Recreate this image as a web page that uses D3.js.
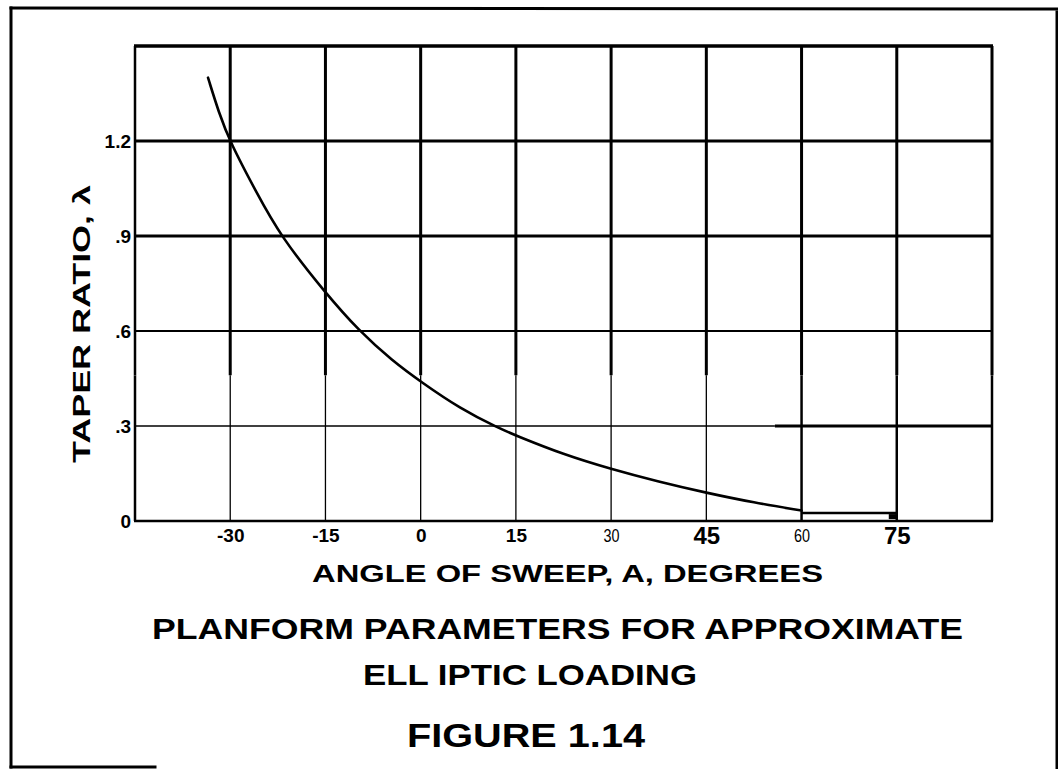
<!DOCTYPE html>
<html><head><meta charset="utf-8">
<script src="https://cdn.jsdelivr.net/npm/d3@7"></script>
<style>body{margin:0;background:#fff}svg{display:block}</style>
</head><body><svg id="c" width="1058" height="769"></svg>
<script>
// ---- data ----
const sweepAngle = [-33.5, -31.8, -30, -25.8, -22.1, -15, -9.7, -4.4, 0, 6.2, 12.3, 15, 22.5, 30, 37.5, 45, 52.5, 60];
const taperRatio = [1.40, 1.29, 1.195, 1.035, 0.90, 0.72, 0.60, 0.505, 0.44, 0.355, 0.293, 0.27, 0.21, 0.164, 0.124, 0.089, 0.058, 0.033];
const extAngle = [60, 75];
const extRatio = [0.025, 0.025];
const xTickValues = [-30, -15, 0, 15, 30, 45, 60, 75];
const xTickLabels = ["-30", "-15", "0", "15", "30", "45", "60", "75"];
const yTickValues = [0, 0.3, 0.6, 0.9, 1.2];
const yTickLabels = ["0", ".3", ".6", ".9", "1.2"];
const xGridValues = [-45, -30, -15, 0, 15, 30, 45, 60, 75, 90];
const yGridValues = [0.3, 0.6, 0.9, 1.2];
const xTitle = "ANGLE OF SWEEP, A, DEGREES";
const yTitle = "TAPER RATIO, \u03bb";
const titleLines = ["PLANFORM PARAMETERS FOR APPROXIMATE", "ELL IPTIC LOADING"];
const figureLabel = "FIGURE 1.14";

// ---- layout ----
const svg = d3.select("#c");
const FONT = "'Liberation Sans', Arial, sans-serif";
const x = d3.scaleLinear().domain([-45, 90]).range([135, 992]);
const y = d3.scaleLinear().domain([0, 1.5]).range([521, 46]);
const xMin = -45, xMax = 90, yMin = 0, yMax = 1.5;

svg.append("rect").attr("width", 1058).attr("height", 769).attr("fill", "#fff");

// outer frame (page border)
const frame = svg.append("g").attr("stroke", "#000").attr("fill", "none").attr("stroke-linecap", "square");
frame.append("line").attr("x1", 11).attr("y1", 8).attr("x2", 1058).attr("y2", 9).attr("stroke-width", 3);
frame.append("line").attr("x1", 11).attr("y1", 8).attr("x2", 11).attr("y2", 767).attr("stroke-width", 3);
frame.append("line").attr("x1", 11).attr("y1", 767).attr("x2", 155).attr("y2", 767).attr("stroke-width", 3);
frame.append("line").attr("x1", 1057).attr("y1", 12).attr("x2", 1057).attr("y2", 769).attr("stroke-width", 3);

// grid
const grid = svg.append("g").attr("stroke", "#000");
const thinBelow = 0.46;
xGridValues.forEach(v => {
  const heavyAll = v >= 60 || v === -45;
  grid.append("line").attr("x1", x(v)).attr("x2", x(v)).attr("y1", y(yMax)).attr("y2", y(thinBelow))
    .attr("stroke-width", v === -45 ? 2.5 : 3);
  grid.append("line").attr("x1", x(v)).attr("x2", x(v)).attr("y1", y(thinBelow)).attr("y2", y(yMin))
    .attr("stroke-width", heavyAll ? 2.5 : 1.3);
});
yGridValues.forEach(v => {
  if (v === 0.3) {
    grid.append("line").attr("x1", x(xMin)).attr("x2", x(55.8)).attr("y1", y(v)).attr("y2", y(v)).attr("stroke-width", 1.5);
    grid.append("line").attr("x1", x(55.8)).attr("x2", x(xMax)).attr("y1", y(v)).attr("y2", y(v)).attr("stroke-width", 3);
  } else {
    grid.append("line").attr("x1", x(xMin)).attr("x2", x(xMax)).attr("y1", y(v)).attr("y2", y(v))
      .attr("stroke-width", v === 0.6 ? 2.2 : 3);
  }
});
// top and bottom edges
grid.append("line").attr("x1", x(xMin) - 1).attr("x2", x(xMax) + 1).attr("y1", y(yMax)).attr("y2", y(yMax)).attr("stroke-width", 3.5);
grid.append("line").attr("x1", x(xMin) - 1).attr("x2", x(xMax) + 1).attr("y1", y(yMin)).attr("y2", y(yMin)).attr("stroke-width", 2.5);

// curve
const pts = sweepAngle.map((a, i) => [a, taperRatio[i]]);
const line = d3.line().x(d => x(d[0])).y(d => y(d[1])).curve(d3.curveBasis);
svg.append("path").datum(pts).attr("d", line).attr("fill", "none").attr("stroke", "#000")
  .attr("stroke-width", 2.6).attr("stroke-linecap", "round");

// extension segment from 60 to 75
const ext = extAngle.map((a, i) => [a, extRatio[i]]);
svg.append("path").datum(ext).attr("d", d3.line().x(d => x(d[0])).y(d => y(d[1])))
  .attr("fill", "none").attr("stroke", "#000").attr("stroke-width", 2.5);
svg.append("rect").attr("x", x(extAngle[1]) - 8).attr("y", y(extRatio[1]) + 1).attr("width", 9).attr("height", 5).attr("fill", "#000");

// x axis labels
const xAxis = d3.axisBottom(x).tickValues(xTickValues).tickFormat((d, i) => xTickLabels[i]).tickSize(0);
const gx = svg.append("g").attr("transform", `translate(0,${y(0)})`).call(xAxis);
gx.select(".domain").remove();
gx.selectAll("text")
  .attr("dy", null).attr("y", d => (d === 45 || d === 75) ? 23 : 21)
  .attr("font-family", FONT)
  .attr("font-weight", d => (d === 30 || d === 60) ? "normal" : "bold")
  .attr("font-size", d => (d === 45 || d === 75) ? 24 : (d === 30 || d === 60) ? 18 : 19)
  .attr("transform", d => (d === 30 || d === 60) ? "scale(0.8,1)" : null)
  .attr("fill", "#000");

// y axis labels
const yAxis = d3.axisLeft(y).tickValues(yTickValues).tickFormat((d, i) => yTickLabels[i]).tickSize(0).tickPadding(4);
const gy = svg.append("g").attr("transform", `translate(${x(xMin)},0)`).call(yAxis);
gy.select(".domain").remove();
gy.selectAll("text").attr("font-family", FONT).attr("font-weight", "bold").attr("font-size", 19)
  .attr("dy", "0.36em").attr("fill", "#000");

// axis titles
svg.append("text").attr("x", 312).attr("y", 582).attr("font-family", FONT).attr("font-weight", "bold")
  .attr("font-size", 23).attr("textLength", 511).attr("lengthAdjust", "spacingAndGlyphs").text(xTitle);
svg.append("text").attr("transform", "translate(90,463) rotate(-90)").attr("x", 0).attr("y", 0)
  .attr("font-family", FONT).attr("font-weight", "bold").attr("font-size", 23)
  .attr("textLength", 278).attr("lengthAdjust", "spacingAndGlyphs").text(yTitle);

// figure title
svg.append("text").attr("x", 152).attr("y", 639).attr("font-family", FONT).attr("font-weight", "bold")
  .attr("font-size", 29).attr("textLength", 811).attr("lengthAdjust", "spacingAndGlyphs").text(titleLines[0]);
svg.append("text").attr("x", 363).attr("y", 685).attr("font-family", FONT).attr("font-weight", "bold")
  .attr("font-size", 30).attr("textLength", 334).attr("lengthAdjust", "spacingAndGlyphs").text(titleLines[1]);
svg.append("text").attr("x", 407).attr("y", 747).attr("font-family", FONT).attr("font-weight", "bold")
  .attr("font-size", 34).attr("textLength", 238).attr("lengthAdjust", "spacingAndGlyphs").text(figureLabel);
</script></body></html>
